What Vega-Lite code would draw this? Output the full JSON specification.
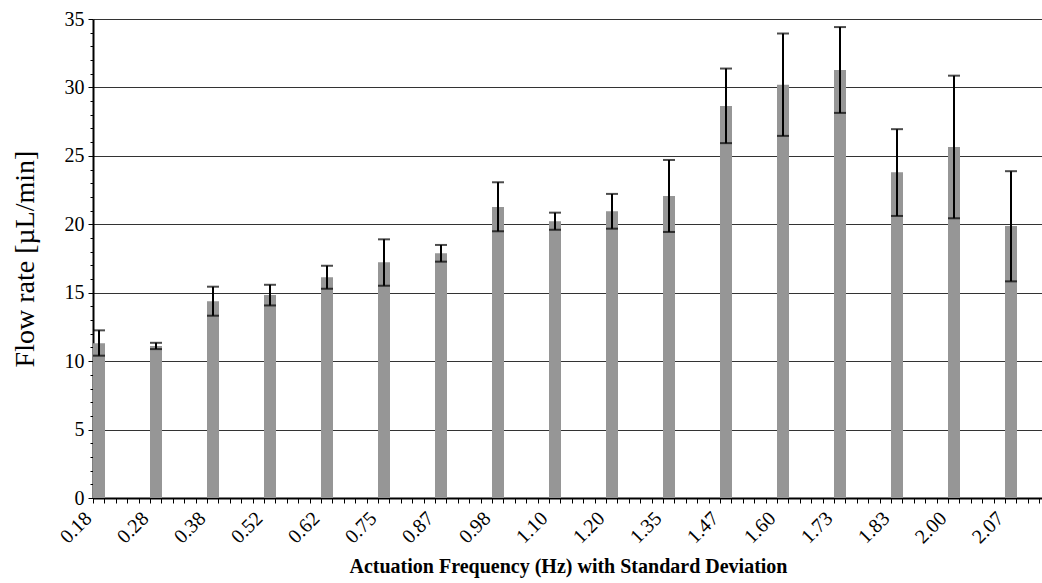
{
  "$schema": "https://vega.github.io/schema/vega-lite/v6.json",
  "width": 949,
  "height": 479,
  "autosize": {"type": "none"},
  "padding": {"left": 93, "top": 19, "right": 0, "bottom": 85},
  "background": "white",
  "config": {"font": "Liberation Serif", "view": {"stroke": null}},
  "data": {
    "values": [
      {"freq": "0.18", "flow": 11.3, "lo": 10.4, "hi": 12.25},
      {"freq": "0.28", "flow": 11.1, "lo": 10.88, "hi": 11.34},
      {"freq": "0.38", "flow": 14.38, "lo": 13.32, "hi": 15.44},
      {"freq": "0.52", "flow": 14.83, "lo": 14.07, "hi": 15.58},
      {"freq": "0.62", "flow": 16.13, "lo": 15.29, "hi": 16.97},
      {"freq": "0.75", "flow": 17.22, "lo": 15.51, "hi": 18.9},
      {"freq": "0.87", "flow": 17.88, "lo": 17.27, "hi": 18.49},
      {"freq": "0.98", "flow": 21.27, "lo": 19.49, "hi": 23.07},
      {"freq": "1.10", "flow": 20.23, "lo": 19.6, "hi": 20.85},
      {"freq": "1.20", "flow": 20.95, "lo": 19.68, "hi": 22.22},
      {"freq": "1.35", "flow": 22.07, "lo": 19.44, "hi": 24.7},
      {"freq": "1.47", "flow": 28.65, "lo": 25.93, "hi": 31.38},
      {"freq": "1.60", "flow": 30.2, "lo": 26.46, "hi": 33.94},
      {"freq": "1.73", "flow": 31.28, "lo": 28.14, "hi": 34.41},
      {"freq": "1.83", "flow": 23.8, "lo": 20.61, "hi": 26.95},
      {"freq": "2.00", "flow": 25.65, "lo": 20.44, "hi": 30.86},
      {"freq": "2.07", "flow": 19.87, "lo": 15.83, "hi": 23.88}
    ]
  },
  "layer": [
    {
      "layer": [
        {
          "mark": {"type": "bar", "color": "#969696", "width": 12, "xOffset": -22.5},
          "encoding": {
            "x": {
              "field": "freq", "type": "ordinal", "sort": null,
              "scale": {"range": [0, 969], "paddingInner": 0, "paddingOuter": 0},
              "axis": {
                "ticks": false, "labelAngle": -45, "labelAlign": "right", "labelBaseline": "middle",
                "labelOffset": -33, "labelPadding": 17, "labelFontSize": 20, "labelColor": "black",
                "labelOverlap": false,
                "domainColor": "black", "domainWidth": 2,
                "title": "Actuation Frequency (Hz) with Standard Deviation",
                "titleFontSize": 20, "titleFontWeight": "bold", "titleColor": "black",
                "titleX": 475, "titleY": 74, "titleAnchor": "middle", "titleAlign": "center", "titleBaseline": "alphabetic"
              }
            },
            "y": {
              "field": "flow", "type": "quantitative",
              "scale": {"domain": [0, 35], "nice": false},
              "axis": {
                "values": [0, 5, 10, 15, 20, 25, 30, 35],
                "labelOverlap": false, "labelFlush": false,
                "tickSize": 5, "tickColor": "black", "tickWidth": 1,
                "grid": true, "gridColor": "#333", "gridWidth": 1,
                "domainColor": "black", "domainWidth": 2,
                "labelFontSize": 20, "labelColor": "black", "labelPadding": 4,
                "title": "Flow rate [µL/min]", "titleFontSize": 28, "titleFontWeight": "normal", "titleColor": "black",
                "titlePadding": 25
              }
            }
          }
        },
        {
          "mark": {"type": "rule", "color": "black", "strokeWidth": 2, "xOffset": -22.5},
          "encoding": {
            "x": {"field": "freq", "type": "ordinal", "sort": null},
            "y": {"field": "lo", "type": "quantitative"},
            "y2": {"field": "hi"}
          }
        },
        {
          "mark": {"type": "tick", "color": "black", "thickness": 2, "size": 12, "xOffset": -22.5},
          "encoding": {
            "x": {"field": "freq", "type": "ordinal", "sort": null},
            "y": {"field": "hi", "type": "quantitative"}
          }
        },
        {
          "mark": {"type": "tick", "color": "black", "thickness": 2, "size": 12, "xOffset": -22.5},
          "encoding": {
            "x": {"field": "freq", "type": "ordinal", "sort": null},
            "y": {"field": "lo", "type": "quantitative"}
          }
        }
      ]
    },
    {
      "mark": {"type": "rule", "opacity": 0},
      "encoding": {
        "x": {
          "datum": 0, "type": "quantitative",
          "scale": {"domain": [0, 85], "range": [0, 969], "nice": false, "zero": false},
          "axis": {
            "orient": "bottom",
            "values": [0,1,2,3,4,5,6,7,8,9,10,11,12,13,14,15,16,17,18,19,20,21,22,23,24,25,26,27,28,29,30,31,32,33,34,35,36,37,38,39,40,41,42,43,44,45,46,47,48,49,50,51,52,53,54,55,56,57,58,59,60,61,62,63,64,65,66,67,68,69,70,71,72,73,74,75,76,77,78,79,80,81,82,83,84,85],
            "labels": false, "domain": false, "grid": false,
            "ticks": true, "tickSize": 5, "tickColor": "black", "tickWidth": 1,
            "title": null
          }
        },
        "y": {
          "datum": 0, "type": "quantitative",
          "scale": {"domain": [0, 35], "nice": false, "zero": false},
          "axis": {
            "orient": "left",
            "values": [0,1,2,3,4,6,7,8,9,11,12,13,14,16,17,18,19,21,22,23,24,26,27,28,29,31,32,33,34],
            "labels": false, "domain": false, "grid": false,
            "ticks": true, "tickSize": 3, "tickColor": "black", "tickWidth": 1,
            "title": null
          }
        }
      }
    }
  ],
  "resolve": {"scale": {"x": "independent", "y": "independent"}, "axis": {"x": "independent", "y": "independent"}}
}
